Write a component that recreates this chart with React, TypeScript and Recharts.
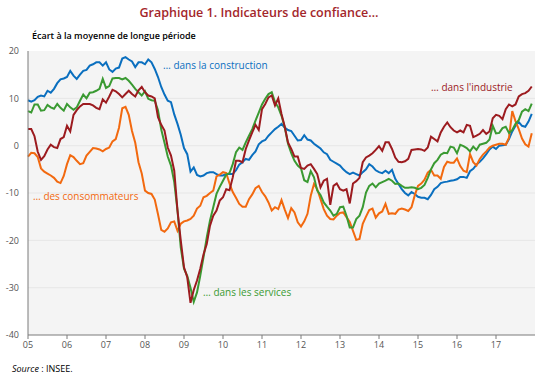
import { LineChart, Line, XAxis, YAxis, CartesianGrid } from 'recharts';

// Années affichées sous l'axe (un tick par mois de janvier)
const years = ['05', '06', '07', '08', '09', '10', '11', '12', '13', '14', '15', '16', '17'];
const yTicks = [-40, -30, -20, -10, 0, 10, 20];

// Séries mensuelles, janvier 2005 -> décembre 2017
const construction = [
  9.6, 9.3, 9.6, 10.3, 10.6, 10.4, 11.6, 11.2, 12.0, 13.2, 14.0, 14.2,
  14.5, 15.8, 14.8, 14.1, 15.0, 15.8, 16.0, 16.9, 17.2, 17.6, 17.6, 16.9,
  17.6, 16.1, 15.6, 16.3, 16.5, 18.4, 18.7, 18.2, 17.8, 16.6, 17.6, 17.6,
  17.2, 18.2, 17.6, 16.2, 14.5, 12.4, 10.8, 9.5, 9.2, 6.6, 4.6, 2.3,
  -0.5, -1.8, -5.5, -4.6, -6.2, -6.5, -6.3, -5.8, -5.6, -5.6, -6.0, -6.3,
  -6.3, -6.0, -6.0, -6.0, -5.2, -4.0, -3.5, -2.8, -3.0, -2.0, -1.2, 0.3,
  0.9, 1.2, 2.1, 2.8, 3.5, 4.0, 4.6, 3.8, 3.3, 3.1, 2.1, 1.1,
  1.2, 2.2, 1.3, 1.1, 0.4, -0.1, -0.6, -1.4, -1.8, -3.0, -3.4, -3.8,
  -4.2, -5.0, -5.6, -6.0, -5.7, -6.0, -6.3, -5.6, -5.0, -3.9, -4.4, -5.2,
  -5.6, -5.8, -5.3, -5.8, -5.1, -7.0, -8.1, -9.2, -10.0, -10.5, -9.8, -10.2,
  -10.8, -11.0, -11.0, -11.3, -10.4, -9.2, -8.7, -7.9, -7.7, -7.6, -7.4, -7.3,
  -7.1, -6.6, -6.6, -6.8, -5.4, -4.9, -4.0, -3.4, -2.7, -1.8, -0.8, -0.2,
  -0.7, 0.0, 0.1, 0.2, 1.4, 3.0, 4.2, 5.0, 4.2, 4.0, 5.1, 6.7,
];

const services = [
  7.3, 7.0, 8.7, 8.7, 7.4, 7.5, 8.6, 8.1, 7.8, 8.8, 8.0, 7.4,
  8.8, 8.1, 7.6, 8.1, 9.5, 10.8, 10.0, 11.2, 11.3, 11.6, 12.0, 14.1,
  12.2, 12.6, 14.2, 14.3, 14.3, 14.0, 14.3, 13.7, 12.9, 12.0, 11.3, 10.6,
  11.5, 9.9, 9.6, 9.5, 7.5, 3.4, 0.6, -2.3, -4.2, -7.7, -13.7, -21.5,
  -26.0, -27.5, -30.0, -33.0, -31.0, -27.5, -23.6, -19.4, -15.8, -13.0, -10.2, -8.7,
  -7.4, -6.1, -5.8, -3.9, -1.4, -0.4, -0.9, 0.7, 2.1, 3.5, 5.3, 7.0,
  8.7, 9.9, 10.9, 11.3, 9.2, 8.1, 6.3, 3.9, 0.4, -1.6, -3.2, -4.2,
  -4.8, -7.3, -7.7, -5.4, -6.7, -9.5, -10.4, -12.0, -12.9, -13.7, -14.8, -14.4,
  -13.0, -12.9, -14.8, -17.3, -17.3, -15.5, -14.8, -13.0, -9.9, -8.5, -8.0, -8.8,
  -8.0, -7.7, -7.4, -7.0, -7.4, -8.1, -8.0, -8.5, -8.9, -8.9, -8.8, -8.9,
  -9.2, -8.9, -8.3, -6.8, -5.0, -3.7, -3.0, -1.9, -1.5, -1.6, -0.2, -0.4,
  -1.6, 0.2, -0.1, -0.5, -1.2, -0.2, -0.9, 0.2, 0.4, 0.6, 1.3, 4.2,
  2.6, 2.7, 3.7, 4.0, 2.7, 3.3, 4.6, 5.4, 7.2, 7.7, 7.3, 8.9,
];

const industrie = [
  3.5, 3.5, 2.0, -1.3, -3.0, -2.2, -0.8, 0.2, -0.3, -0.5, 1.4, 1.8,
  4.2, 3.0, 6.5, 7.5, 8.3, 8.8, 8.8, 8.8, 8.5, 8.0, 7.7, 9.8,
  9.1, 10.4, 11.8, 11.5, 10.9, 10.2, 10.9, 11.6, 10.9, 10.4, 11.7, 12.4,
  11.3, 10.6, 10.4, 10.0, 6.0, 4.4, 3.2, -0.4, -2.1, -5.3, -13.7, -20.0,
  -25.7, -27.8, -33.2, -30.5, -28.5, -26.0, -23.0, -20.8, -16.9, -14.8, -13.7, -11.6,
  -10.9, -9.2, -9.4, -6.7, -3.2, -3.2, -3.5, -0.7, 1.1, 2.8, 4.4, 3.3,
  7.7, 8.8, 10.2, 10.6, 8.5, 10.0, 6.7, 4.0, 0.7, -0.7, -2.3, -2.3,
  -4.7, -4.9, -4.2, -3.9, -4.9, -6.0, -8.8, -7.4, -7.0, -12.5, -8.5, -8.0,
  -9.2, -9.5, -9.2, -12.2, -8.0, -7.5, -6.8, -3.5, -2.5, -2.1, -1.6, -0.9,
  -0.1, -1.1, 0.7, 0.7, -0.7, -2.5, -3.4, -3.5, -3.3, -2.8, -0.9, -0.8,
  -0.7, -0.8, -1.1, -0.4, 1.9, 1.4, 0.9, 2.8, 4.0, 4.9, 3.9, 3.2,
  2.8, 3.2, 2.8, 4.4, 4.2, 1.8, 2.1, 2.5, 3.3, 2.5, 3.0, 5.8,
  6.5, 6.3, 5.6, 7.7, 8.7, 8.3, 8.7, 10.4, 10.9, 11.1, 11.6, 12.5,
];

const consommateurs = [
  -2.3, -1.5, -1.6, -2.4, -4.8, -5.5, -5.9, -6.3, -6.8, -7.6, -7.9, -6.4,
  -3.9, -2.0, -2.4, -3.2, -3.9, -3.7, -2.1, -1.3, -0.5, -0.6, -0.8, -1.2,
  -0.7, -0.4, 0.9, 1.4, 3.8, 7.9, 8.2, 6.5, 3.1, 0.6, -3.5, -5.9,
  -9.5, -10.0, -10.2, -11.4, -14.5, -17.8, -18.2, -17.5, -16.2, -16.0, -18.0, -16.5,
  -16.0, -15.8, -15.5, -14.8, -13.3, -12.7, -10.9, -10.6, -10.0, -9.5, -6.5, -6.1,
  -5.6, -5.8, -8.0, -9.8, -11.0, -12.3, -12.9, -12.9, -11.3, -10.3, -9.0, -8.5,
  -9.8, -10.7, -12.0, -13.7, -13.0, -13.4, -11.5, -13.5, -15.3, -13.2, -14.1, -16.2,
  -17.1, -16.0, -14.4, -10.6, -8.1, -9.2, -11.3, -13.4, -14.8, -15.5, -15.6, -14.8,
  -14.2, -14.1, -15.1, -16.1, -18.0, -19.9, -19.7, -16.5, -15.0, -13.6, -13.3, -15.2,
  -14.3, -13.9, -12.3, -14.4, -14.3, -14.4, -13.5, -13.3, -13.5, -13.8, -13.0, -10.5,
  -8.5, -8.0, -7.2, -5.7, -5.1, -6.3, -6.3, -7.0, -4.5, -3.4, -3.6, -3.6,
  -2.7, -4.3, -5.3, -5.6, -1.8, -3.5, -4.2, -2.8, -1.9, -1.2, -0.4, 0.0,
  0.2, 0.4, 0.4, 0.2, 1.7, 7.3, 5.2, 3.5, 1.5, 0.3, -0.2, 2.6,
];

const data = construction.map((v, i) => ({
  t: i,
  construction: v,
  services: services[i],
  industrie: industrie[i],
  consommateurs: consommateurs[i],
}));

const BLUE = '#0a6fbf';
const GREEN = '#3a9a32';
const RED = '#9c1b1f';
const ORANGE = '#f2690f';

const font = '"Open Sans", "Noto Sans", sans-serif';

function Label({ x, y, color, children }: { x: number; y: number; color: string; children: any }) {
  return (
    <div
      style={{
        position: 'absolute',
        left: x,
        top: y,
        transform: 'translateY(-50%)',
        color,
        fontSize: 10,
        whiteSpace: 'nowrap',
        lineHeight: 1,
      }}
    >
      {children}
    </div>
  );
}

export default function App() {
  return (
    <div style={{ position: 'absolute', left: 0, top: 0, width: 550, height: 379, background: '#fff', fontFamily: font }}>
      <div
        style={{
          position: 'absolute',
          left: 0,
          width: 518,
          top: 13,
          transform: 'translateY(-50%)',
          textAlign: 'center',
          color: '#a3262b',
          fontSize: 12.5,
          fontWeight: 600,
          lineHeight: 1,
        }}
      >
        Graphique 1. Indicateurs de confiance…
      </div>
      <div style={{ position: 'absolute', left: 32, top: 35, transform: 'translateY(-50%)', fontSize: 9, fontWeight: 600, lineHeight: 1 }}>
        Écart à la moyenne de longue période
      </div>

      <LineChart width={550} height={379} data={data} margin={{ top: 51, right: 15, bottom: 24, left: 0 }}>
        <CartesianGrid vertical={false} fill="#f4f4f4" stroke="#e6e6e6" horizontalValues={[-30, -20, -10, 0, 10]} />
        <XAxis
          dataKey="t"
          type="number"
          domain={[0, 156]}
          ticks={years.map((_, i) => i * 12)}
          tickFormatter={(v: number) => years[v / 12]}
          interval={0}
          height={20}
          stroke="#7a7a7a"
          tickSize={4}
          tickMargin={3}
          tick={{ fill: '#555', fontSize: 9 }}
        />
        <YAxis
          domain={[-40, 20]}
          ticks={yTicks}
          width={28}
          stroke="#7a7a7a"
          tickLine={false}
          tickSize={0}
          tickMargin={9}
          tick={{ fill: '#555', fontSize: 9 }}
        />
        <Line type="linear" dataKey="construction" stroke={BLUE} strokeWidth={2} dot={false} isAnimationActive={false} />
        <Line type="linear" dataKey="consommateurs" stroke={ORANGE} strokeWidth={2} dot={false} isAnimationActive={false} />
        <Line type="linear" dataKey="services" stroke={GREEN} strokeWidth={2} dot={false} isAnimationActive={false} />
        <Line type="linear" dataKey="industrie" stroke={RED} strokeWidth={2} dot={false} isAnimationActive={false} />
      </LineChart>

      <Label x={163} y={65} color={BLUE}>… dans la construction</Label>
      <Label x={431} y={87} color={RED}>… dans l'industrie</Label>
      <Label x={33} y={196} color={ORANGE}>… des consommateurs</Label>
      <Label x={203} y={292} color={GREEN}>… dans les services</Label>

      <div style={{ position: 'absolute', left: 12, top: 368, transform: 'translateY(-50%)', fontSize: 9, lineHeight: 1 }}>
        <i>Source</i> : INSEE.
      </div>
    </div>
  );
}
